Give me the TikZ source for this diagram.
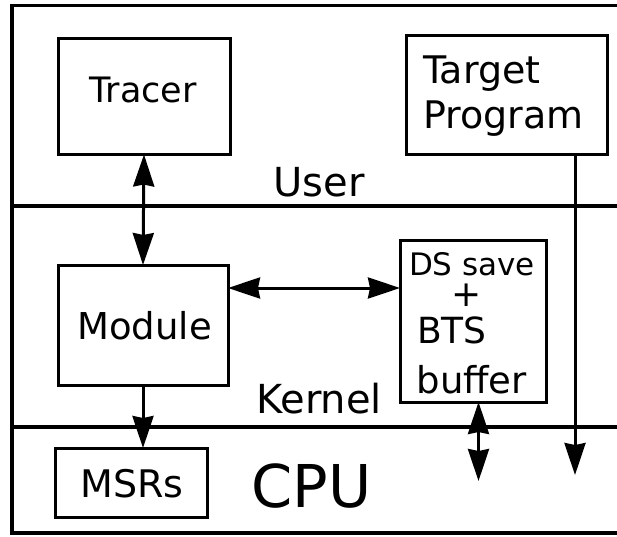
\documentclass[tikz,border=0pt]{standalone}
\usepackage{fontspec}
\setmainfont{DejaVu Sans}
\usetikzlibrary{arrows.meta}

\newcommand{\fs}[1]{\fontsize{#1}{#1}\selectfont}

\tikzset{
  box/.style={draw, line width=3pt, inner sep=0pt, outer sep=0pt},
  frameline/.style={line width=3.5pt},
  lbl/.style={inner sep=0pt, outer sep=0pt, anchor=base},
  conn/.style={line width=3pt, >={Stealth[length=32pt,width=21pt,inset=2pt]}},
}

\begin{document}
\begin{tikzpicture}[x=1pt,y=-1pt]
  \useasboundingbox (0,0) rectangle (617,536);

  % outer frame, open on the right, and the layer dividers
  \draw[frameline] (617,5.5) -- (12,5.5) -- (12,533) -- (617,533);
  \draw[frameline] (12,206) -- (617,206);
  \draw[frameline] (12,427) -- (617,427);

  % boxes
  \node[box, minimum width=172pt, minimum height=116pt] (tracer) at (144,96.5) {};
  \node[box, minimum width=201pt, minimum height=119pt] (tp) at (506.5,94.5) {};
  \node[box, minimum width=170pt, minimum height=120pt] (module) at (143,325) {};
  \node[box, minimum width=146pt, minimum height=162pt] (ds) at (473,321) {};
  \node[box, minimum width=152pt, minimum height=69pt] (msrs) at (131,482.5) {};

  % box texts
  \node[lbl] (ttracer) at (143,102.5) {\fs{35}Tracer};
  \node[lbl, anchor=base west] (ttarget) at (423,83) {\fs{38}Target};
  \node[lbl, anchor=base west] (tprogram) at (423,128) {\fs{38}Program};
  \node[lbl] (tmodule) at (144.5,339) {\fs{37}Module};
  \node[lbl] (tdssave) at (472,275) {\fs{31}DS save};
  \node[inner sep=0pt] (tplus) at (467,295) {\fs{36}+};
  \node[lbl, anchor=base west] (tbts) at (417,343) {\fs{36}BTS};
  \node[lbl, anchor=base west] (tbuffer) at (416.5,393.5) {\fs{37}buffer};
  \node[lbl] (tmsrs) at (132,497) {\fs{38}MSRs};

  % layer names
  \node[lbl] (user) at (319,196) {\fs{40}User};
  \node[lbl] (kernel) at (319,413) {\fs{40}Kernel};
  \node[lbl] (cpu) at (311.5,507) {\fs{59}CPU};

  % connector end points
  \coordinate (hy) at (0,288);
  \coordinate (dsend) at (478.5,481);
  \coordinate (tpend) at (575,475);

  % connectors
  \draw[conn, <->] (tracer.south) -- (module.north);
  \draw[conn, <->] (module.east |- hy) -- (ds.west |- hy);
  \draw[conn, ->] (module.south) -- (module.south |- msrs.north);
  \draw[conn, <->] (ds.south -| dsend) -- (dsend);
  \draw[conn, ->] (tp.south -| tpend) -- (tpend);
\end{tikzpicture}
\end{document}
